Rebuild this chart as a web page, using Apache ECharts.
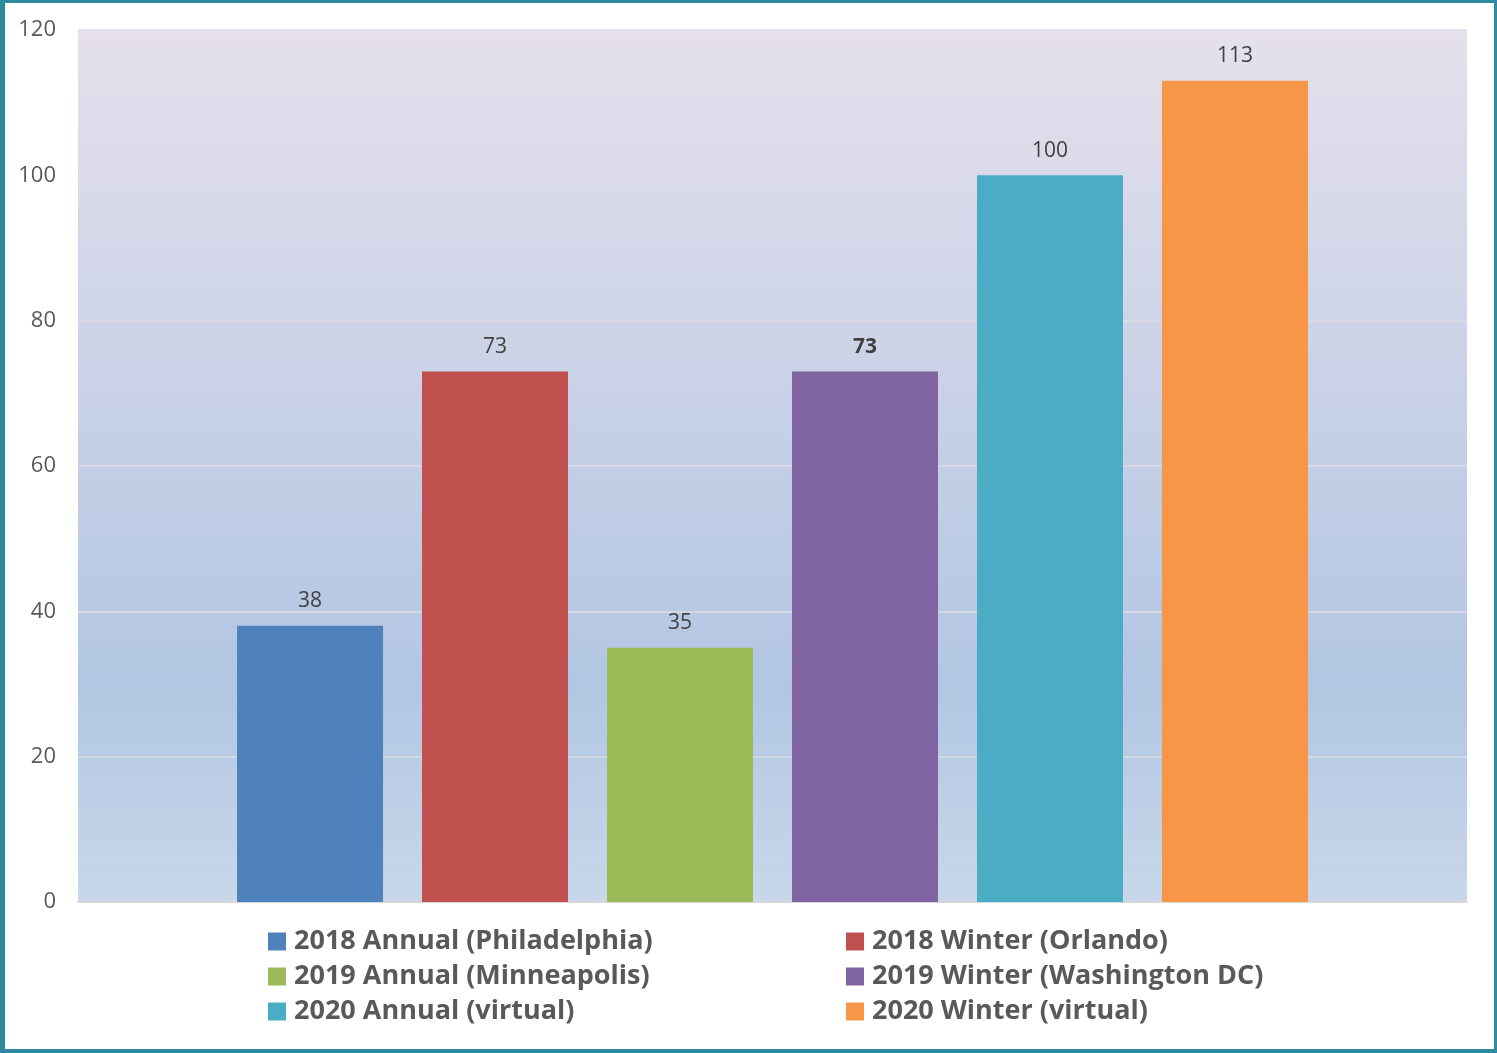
<!DOCTYPE html>
<html>
<head>
<meta charset="utf-8">
<script src="https://cdn.jsdelivr.net/npm/echarts@6/dist/echarts.min.js"></script>
<style>
html,body{margin:0;padding:0;background:#fff;}
#c{width:1497px;height:1053px;position:absolute;left:0;top:0;}
#frame{position:absolute;left:0;top:0;width:1497px;height:1053px;box-sizing:border-box;border-style:solid;border-color:#2E8AA0;border-width:3px 3px 4px 5px;pointer-events:none;}
</style>
</head>
<body>
<div id="c"></div>
<div id="frame"></div>
<script>
const seriesNames = ['2018 Annual (Philadelphia)','2018 Winter (Orlando)','2019 Annual (Minneapolis)','2019 Winter (Washington DC)','2020 Annual (virtual)','2020 Winter (virtual)'];
const seriesValues = [38, 73, 35, 73, 100, 113];
const seriesColors = ['#4F81BD','#C0504D','#9BBB59','#8064A2','#4BACC6','#F79646'];
const boldLabel = [false,false,false,true,false,false];
const yTicks = [0,20,40,60,80,100,120];

const chart = echarts.init(document.getElementById('c'));
const series = seriesNames.map((n,i)=>({
  name:n, type:'bar', data:[seriesValues[i]], barWidth:146, barGap:'26.7%',
  itemStyle:{color:seriesColors[i]},
  label:{show:true, position:'top', distance:14, fontFamily:'Open Sans', fontSize:21,
         color:'#404040', fontWeight: boldLabel[i]?'bold':'normal'}
}));
const legendText = {fontFamily:'Open Sans', fontSize:27, fontWeight:'bold', color:'#595959', padding:[0,0,0,3]};
chart.setOption({
  animation:false,
  grid:{left:78, right:30, top:30, bottom:151, show:true, borderWidth:0,
    backgroundColor:new echarts.graphic.LinearGradient(0,0,0,1,[
      {offset:0,color:'#E5E0EC'},{offset:0.75,color:'#B2C6E3'},{offset:1,color:'#C8D8EA'}])},
  xAxis:{type:'category', data:[''], axisTick:{show:false}, axisLabel:{show:false},
    axisLine:{show:true, lineStyle:{color:'#D9D9D9', width:2}}},
  yAxis:{type:'value', min:yTicks[0], max:yTicks[yTicks.length-1], interval:20,
    axisLabel:{fontFamily:'Open Sans', fontSize:22, color:'#595959', margin:22},
    axisLine:{show:false}, axisTick:{show:false},
    splitLine:{lineStyle:{color:'#DCDCE4', width:1.5}}},
  legend:[
    {data:[seriesNames[0],seriesNames[2],seriesNames[4]], orient:'vertical', left:268, top:928,
     itemWidth:18, itemHeight:18, itemGap:8, icon:'rect', textStyle:legendText, padding:0},
    {data:[seriesNames[1],seriesNames[3],seriesNames[5]], orient:'vertical', left:846, top:928,
     itemWidth:18, itemHeight:18, itemGap:8, icon:'rect', textStyle:legendText, padding:0}
  ],
  series:series
});
</script>
</body>
</html>
